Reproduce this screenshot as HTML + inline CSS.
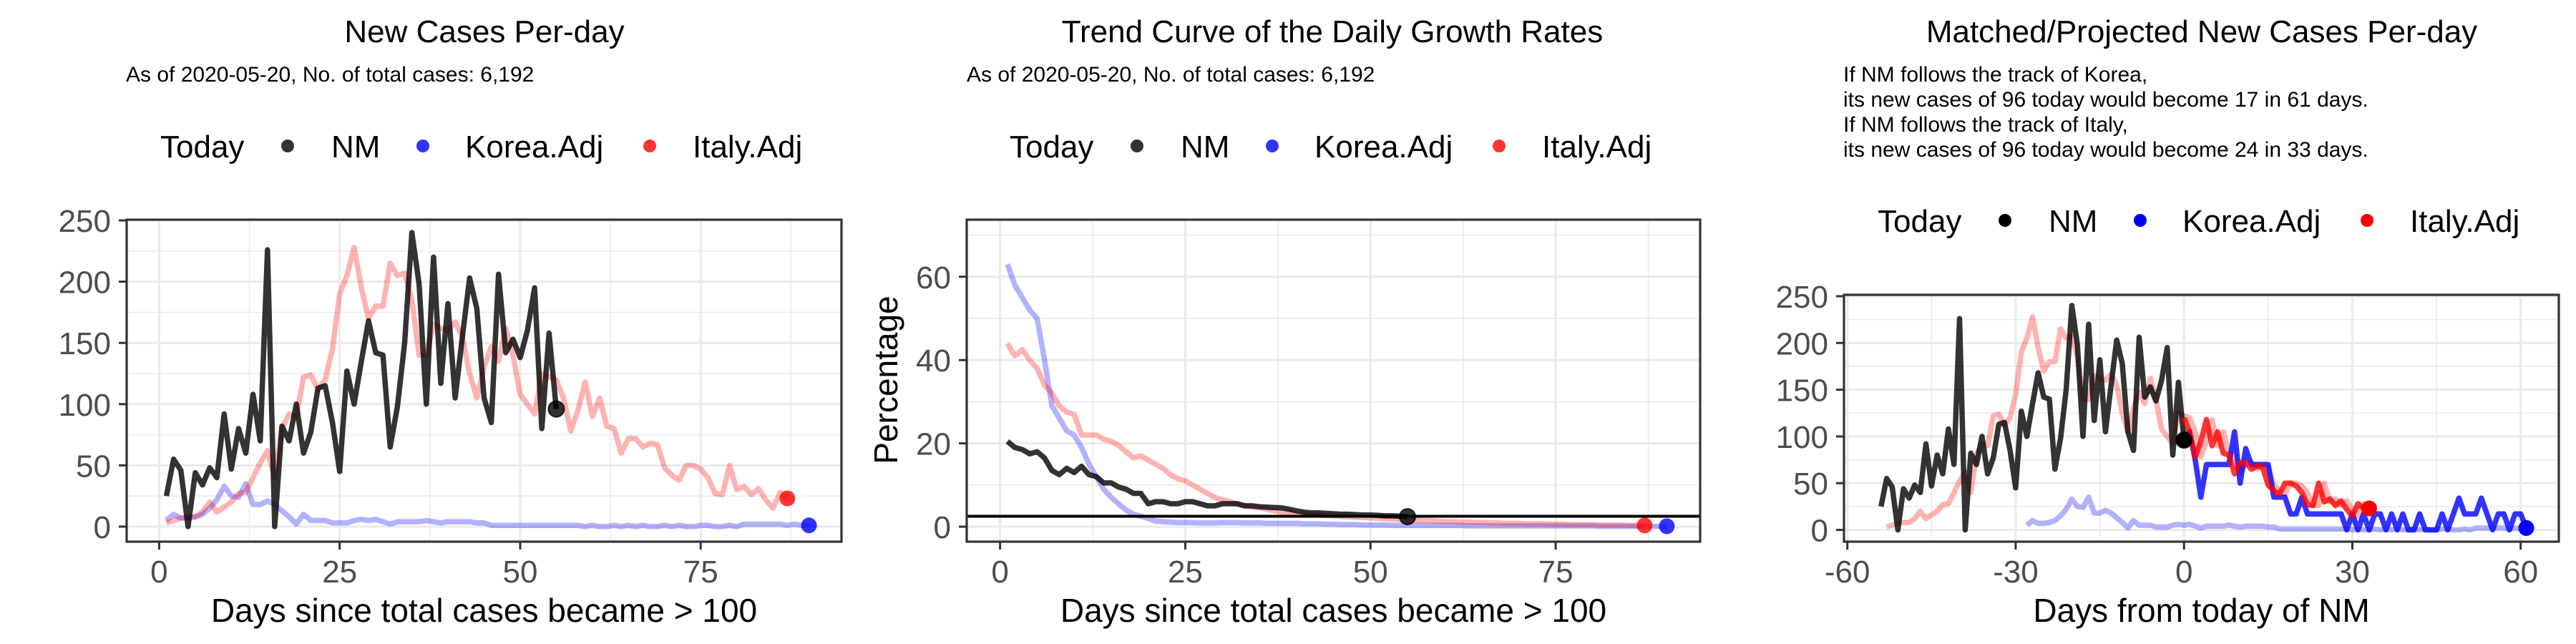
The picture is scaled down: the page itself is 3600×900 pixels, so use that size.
<!DOCTYPE html>
<html><head><meta charset="utf-8">
<style>
html,body{margin:0;padding:0;background:#fff;}
svg{display:block;font-family:"Liberation Sans",Arial,sans-serif;}
</style></head>
<body>
<svg id="chart" width="3600" height="900" viewBox="0 0 3600 900" xmlns="http://www.w3.org/2000/svg">
<rect width="3600" height="900" fill="#fff"/>
<text x="677" y="59" font-size="44" text-anchor="middle">New Cases Per-day</text>
<text x="176" y="114" font-size="30">As of 2020-05-20, No. of total cases: 6,192</text>
<text x="1862" y="59" font-size="44" text-anchor="middle">Trend Curve of the Daily Growth Rates</text>
<text x="1351" y="114" font-size="30">As of 2020-05-20, No. of total cases: 6,192</text>
<text x="3077" y="59" font-size="44" text-anchor="middle">Matched/Projected New Cases Per-day</text>
<g font-size="30">
<text x="2576" y="114">If NM follows the track of Korea,</text>
<text x="2576" y="149">its new cases of 96 today would become 17 in 61 days.</text>
<text x="2576" y="184">If NM follows the track of Italy,</text>
<text x="2576" y="219">its new cases of 96 today would become 24 in 33 days.</text>
</g>
<g id="layer"></g>
</svg>
<script>
const nmCases = [25,55,46,0,44,34,48,40,92,47,80,60,108,70,226,0,82,70,100,60,77,113,115,85,45,127,100,135,168,142,140,65,98,150,240,198,100,220,117,182,105,155,203,178,105,85,206,142,153,138,160,195,80,158,96];
const italyCases = [3,5,7,8,8,12,20,12,16,20,27,28,40,52,62,40,80,92,90,122,124,112,120,145,190,205,228,195,170,180,180,215,205,207,185,140,140,165,162,160,167,155,125,105,130,147,135,162,140,108,100,92,125,122,120,105,78,95,118,90,105,82,80,60,72,72,65,68,67,48,42,38,50,50,47,40,27,26,50,30,33,26,31,22,15,28,23];
const koreaCases = [5,10,7,7,8,10,15,22,33,25,24,35,18,18,21,18,13,8,2,10,5,5,5,3,3,3,5,6,5,6,4,2,4,4,4,4,5,4,3,4,4,4,4,3,3,1,1,1,1,1,1,1,1,1,1,1,1,1,0,1,0,0,1,0,1,0,1,0,0,1,0,1,0,0,1,1,0,0,1,0,2,2,2,2,2,2,1,2,1,1];
const nmGrowth = [20.5,19,18.5,17.5,18,16.5,13.5,12.5,14,13,14.5,12.5,12,10.5,10.5,9.5,9,8,8,5.5,6,6,5.5,5.5,6,6,5.5,5,5,5.5,5.5,5.5,5,5,4.8,4.7,4.6,4.5,4.2,3.8,3.5,3.3,3.3,3.2,3.1,3,3,2.9,2.8,2.8,2.7,2.6,2.6,2.5,2.4];
const koreaGrowth = [63,58,55,52,50,40,29,26,23,22,19,15,12,9,7,5.5,4,3,2.5,2,1.3,1.2,1.1,1,1,1,0.9,0.9,0.9,1,1,1,0.9,0.9,0.9,0.8,0.8,0.8,0.8,0.8,0.7,0.7,0.7,0.6,0.6,0.5,0.5,0.5,0.4,0.4,0.4,0.4,0.3,0.3,0.3,0.3,0.3,0.3,0.3,0.3,0.3,0.3,0.2,0.2,0.2,0.2,0.2,0.2,0.2,0.2,0.2,0.2,0.2,0.2,0.2,0.2,0.2,0.2,0.2,0.2,0.1,0.1,0.1,0.1,0.1,0.1,0.1,0.1,0.1,0.1];
const italyGrowth = [44,41,42.5,40,38,34,32,29,27.5,27,22,22,22,21,20.5,19.5,18,16.5,17,16,15,14,12.5,11.5,11,10,9,8,7,6.5,6,5.5,5,4.7,4.5,4.2,3.8,3.5,3.3,3.1,3,2.9,2.8,2.7,2.6,2.5,2.4,2.3,2.2,2.1,2,1.9,1.8,1.7,1.6,1.5,1.4,1.4,1.3,1.2,1.2,1.1,1.1,1,1,0.9,0.9,0.8,0.8,0.8,0.7,0.7,0.7,0.6,0.6,0.6,0.5,0.5,0.5,0.5,0.4,0.4,0.4,0.4,0.3,0.3,0.3];
const growthRef = 2.5;
const koreaProj = [100,105,75,35,70,70,70,70,70,105,50,87,70,70,70,70,35,35,35,17,17,35,17,17,17,17,17,17,17,0,17,0,17,0,17,17,0,17,0,17,0,0,17,0,0,0,17,0,17,34,17,17,17,34,17,0,17,17,0,17,17,2];
const nmOffset = 55, italyOffset = 54, koreaOffset = 29;
const ticks1x = [0,25,50,75], ticks1y = [0,50,100,150,200,250];
const ticks2y = [0,20,40,60];
const ticks3x = [-60,-30,0,30,60];

const NS = 'http://www.w3.org/2000/svg';
const layer = document.getElementById('layer');
function mk(tag, attrs, parent){ const e=document.createElementNS(NS,tag); for(const k in attrs) e.setAttribute(k,attrs[k]); (parent||layer).appendChild(e); return e; }
function scale(d0,d1,r0,r1){ return v => r0 + (v-d0)/(d1-d0)*(r1-r0); }

function panel(p){
  const g = mk('g',{});
  
  
  const X = scale(p.xd[0],p.xd[1],p.L,p.R), Y = scale(p.yd[0],p.yd[1],p.B,p.T);
  p.xminor.forEach(v=>{ mk('line',{x1:X(v),x2:X(v),y1:p.T,y2:p.B,stroke:'#ebebeb','stroke-width':1.6},g); });
  p.yminor.forEach(v=>{ mk('line',{x1:p.L,x2:p.R,y1:Y(v),y2:Y(v),stroke:'#ebebeb','stroke-width':1.6},g); });
  p.xt.forEach(v=>{ mk('line',{x1:X(v),x2:X(v),y1:p.T,y2:p.B,stroke:'#ebebeb','stroke-width':3.2},g); });
  p.yt.forEach(v=>{ mk('line',{x1:p.L,x2:p.R,y1:Y(v),y2:Y(v),stroke:'#ebebeb','stroke-width':3.2},g); });
  p.xt.forEach(v=>{
    mk('line',{x1:X(v),x2:X(v),y1:p.B,y2:p.B+11,stroke:'#333','stroke-width':3},g);
    const t = mk('text',{x:X(v),y:814,'font-size':44,'text-anchor':'middle',fill:'#4d4d4d'},g);
    
    
    t.textContent = v;
  });
  p.yt.forEach(v=>{
    mk('line',{x1:p.L-11,x2:p.L,y1:Y(v),y2:Y(v),stroke:'#333','stroke-width':3},g);
    const t = mk('text',{x:p.L-22,y:Y(v)+16,'font-size':44,'text-anchor':'end',fill:'#4d4d4d'},g);
    
    
    t.textContent = v;
  });
  const cp = 'clip-'+p.name;
  const defs = mk('defs',{},g); const c = mk('clipPath',{id:cp},defs); mk('rect',{x:p.L,y:p.T,width:p.R-p.L,height:p.B-p.T},c);
  const lg = mk('g',{'clip-path':'url(#'+cp+')'},g);
  p.series.forEach(s=>{
    const pts = s.vals.map((v,i)=>[X(i+s.x0),Y(v)]);
    const pl = mk('polyline',{points:pts.map(q=>q[0].toFixed(1)+','+q[1].toFixed(1)).join(' '),fill:'none',stroke:s.color,'stroke-opacity':s.op,'stroke-width':7.5,'stroke-linejoin':'round'},lg);
    
    
  });
  if(p.hline!==undefined){ const hl = mk('line',{x1:p.L,x2:p.R,y1:Y(p.hline),y2:Y(p.hline),stroke:'#000','stroke-width':4},lg);
    
     }
  p.dots.forEach(d=>{
    const c2 = mk('circle',{cx:X(d.x),cy:Y(d.y),r:11,fill:d.color,'fill-opacity':d.op,stroke:'#000','stroke-opacity':d.color==='#000'?0.8:0,'stroke-width':2},g);
    
    
  });
  mk('rect',{x:p.L,y:p.T,width:p.R-p.L,height:p.B-p.T,fill:'none',stroke:'#333','stroke-width':3.2},g);
  const xt = mk('text',{x:(p.L+p.R)/2,y:869,'font-size':46,'text-anchor':'middle'},g);
  
  
  xt.textContent = p.xtitle;
  if(p.ytitle){ const yt = mk('text',{x:0,y:0,'font-size':46,'text-anchor':'middle',transform:'translate(1254,531) rotate(-90)'},g);
    
    
    yt.textContent = p.ytitle; }
  const lgd = mk('g',{'font-size':44},g);
  
  
  const o = p.legX, ly = p.legY;
  const tt = mk('text',{x:o,y:ly+16},lgd); tt.textContent='Today';
  [['NM','#000',178,239],['Korea.Adj','#0000ff',367,426],['Italy.Adj','#ff0000',684,744]].forEach(e=>{
    const dc = mk('circle',{cx:o+e[2],cy:ly,r:9,fill:e[1],'fill-opacity':p.legOp},lgd);
    
    
    const te = mk('text',{x:o+e[3],y:ly+16},lgd);
    
    
    te.textContent = e[0];
  });
}

panel({name:'panel-new-cases',L:177,R:1176,T:307,B:757,xd:[-4.5,94.5],yd:[-12.3,250.6],
  xt:ticks1x,yt:ticks1y,xminor:[12.5,37.5,62.5,87.5],yminor:[25,75,125,175,225],
  series:[{name:'korea-line',vals:koreaCases,x0:1,color:'#0000ff',op:0.3},
          {name:'italy-line',vals:italyCases,x0:1,color:'#ff0000',op:0.3},
          {name:'nm-line',vals:nmCases,x0:1,color:'#000',op:0.8}],
  dots:[{name:'nm-today-dot',x:nmCases.length,y:nmCases[nmCases.length-1],color:'#000',op:0.8},
        {name:'italy-today-dot',x:italyCases.length,y:italyCases[italyCases.length-1],color:'#ff0000',op:0.8},
        {name:'korea-today-dot',x:koreaCases.length,y:koreaCases[koreaCases.length-1],color:'#0000ff',op:0.8}],
  xtitle:'Days since total cases became > 100',legX:224,legY:204,legOp:0.8});

panel({name:'panel-growth-rates',L:1351,R:2376,T:307,B:757,xd:[-4.5,94.5],yd:[-3.6,73.7],
  xt:ticks1x,yt:ticks2y,xminor:[12.5,37.5,62.5,87.5],yminor:[10,30,50,70],
  series:[{name:'korea-growth-line',vals:koreaGrowth,x0:1,color:'#0000ff',op:0.3},
          {name:'italy-growth-line',vals:italyGrowth,x0:1,color:'#ff0000',op:0.3},
          {name:'nm-growth-line',vals:nmGrowth,x0:1,color:'#000',op:0.8}],
  hline:growthRef,
  dots:[{name:'nm-today-dot',x:nmGrowth.length,y:nmGrowth[nmGrowth.length-1],color:'#000',op:0.8},
        {name:'italy-today-dot',x:italyGrowth.length,y:italyGrowth[italyGrowth.length-1],color:'#ff0000',op:0.8},
        {name:'korea-today-dot',x:koreaGrowth.length,y:koreaGrowth[koreaGrowth.length-1],color:'#0000ff',op:0.8}],
  xtitle:'Days since total cases became > 100',ytitle:'Percentage',legX:1411,legY:204,legOp:0.8});

panel({name:'panel-projected',L:2577,R:3576,T:412,B:757,xd:[-60.6,66.8],yd:[-12.6,251.5],
  xt:ticks3x,yt:ticks1y,xminor:[-45,-15,15,45],yminor:[25,75,125,175,225],
  series:[{name:'korea-matched-line',vals:koreaCases,x0:1-koreaOffset,color:'#0000ff',op:0.3},
          {name:'italy-matched-line',vals:italyCases,x0:1-italyOffset,color:'#ff0000',op:0.3},
          {name:'nm-line',vals:nmCases,x0:1-nmOffset,color:'#000',op:0.8},
          {name:'korea-projected-line',vals:koreaProj,x0:0,color:'#0000ff',op:0.8},
          {name:'italy-projected-line',vals:italyCases.slice(italyOffset),x0:0,color:'#ff0000',op:0.8}],
  dots:[{name:'nm-today-dot',x:0,y:nmCases[nmCases.length-1],color:'#000',op:1},
        {name:'italy-projected-dot',x:italyCases.length-italyOffset,y:italyCases[italyCases.length-1],color:'#ff0000',op:1},
        {name:'korea-projected-dot',x:koreaProj.length-1,y:koreaProj[koreaProj.length-1],color:'#0000ff',op:1}],
  xtitle:'Days from today of NM',legX:2624,legY:308,legOp:1});
</script>
</body></html>
